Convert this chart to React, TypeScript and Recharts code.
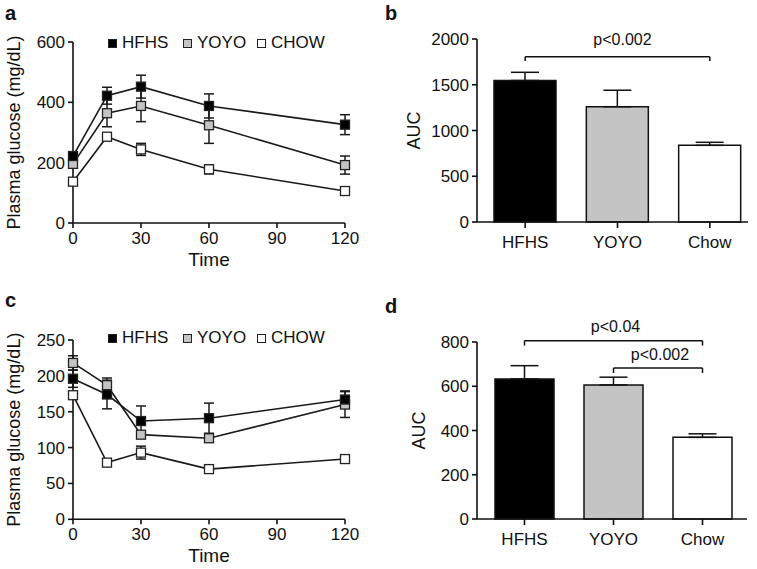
import React from 'react';
import { LineChart, Line, BarChart, Bar, Cell, XAxis, YAxis, ErrorBar, ReferenceLine } from 'recharts';

// sampling times (min)
const times = [0, 15, 30, 60, 120];
const timeTicks = [0, 30, 60, 90, 120];

// panel a: glucose tolerance
const gttHfhs = [222, 422, 452, 388, 326];
const gttHfhsErr = [10, 28, 38, 40, 33];
const gttYoyo = [196, 364, 388, 324, 192];
const gttYoyoErr = [12, 45, 52, 60, 30];
const gttChow = [137, 286, 244, 178, 106];
const gttChowErr = [8, 10, 20, 15, 8];

// panel c: insulin tolerance
const ittHfhs = [196, 174, 137, 141, 167];
const ittHfhsErr = [12, 20, 21, 21, 12];
const ittYoyo = [218, 187, 118, 113, 160];
const ittYoyoErr = [10, 10, 5, 5, 18];
const ittChow = [173, 79, 93, 70, 84];
const ittChowErr = [3, 3, 9, 3, 3];

// panels b and d: AUC
const groups = ['HFHS', 'YOYO', 'Chow'];
const gttAuc = [1546, 1260, 838];
const gttAucErr = [90, 180, 33];
const ittAuc = [633, 606, 369];
const ittAucErr = [60, 35, 16];

const legendNames = ['HFHS', 'YOYO', 'CHOW'];
const fills = ['#000000', '#c4c4c4', '#ffffff'];
const ink = '#111';
const font = '"Liberation Sans", Arial, sans-serif';

const buildSeries = (h: number[], he: number[], y: number[], ye: number[], c: number[], ce: number[]) =>
  times.map((t, i) => ({ t, hfhs: h[i], hfhsErr: he[i], yoyo: y[i], yoyoErr: ye[i], chow: c[i], chowErr: ce[i] }));

const gttData = buildSeries(gttHfhs, gttHfhsErr, gttYoyo, gttYoyoErr, gttChow, gttChowErr);
const ittData = buildSeries(ittHfhs, ittHfhsErr, ittYoyo, ittYoyoErr, ittChow, ittChowErr);

const buildAuc = (vals: number[], errs: number[]) =>
  groups.map((name, i) => ({ name, v: vals[i], err: [0, errs[i]] }));

const gttAucData = buildAuc(gttAuc, gttAucErr);
const ittAucData = buildAuc(ittAuc, ittAucErr);

const squareDot = (fill: string) => (props: any) => {
  const { cx, cy, index } = props;
  if (cx == null || cy == null) return <g key={index} />;
  return <rect key={index} x={cx - 4.5} y={cy - 4.5} width={9} height={9} fill={fill} stroke="#222" strokeWidth={1.3} />;
};

const yLabel = (text: string, x: number) => (props: any) => {
  const vb = props.viewBox;
  const cy = vb.y + vb.height / 2;
  return (
    <text x={x} y={cy} transform={`rotate(-90 ${x} ${cy})`} textAnchor="middle" fontSize={18} fill={ink}>
      {text}
    </text>
  );
};

const axisStyle = { stroke: ink, strokeWidth: 1.6 };
const tickStyle = { fill: ink, fontSize: 17 };

const PanelLetter = ({ ch, left, top }: { ch: string; left: number; top: number }) => (
  <div style={{ position: 'absolute', left, top, fontSize: 20, fontWeight: 'bold', lineHeight: '20px' }}>{ch}</div>
);

const LegendRow = ({ top }: { top: number }) => {
  const lefts = [108, 183, 257];
  return (
    <>
      {legendNames.map((n, i) => (
        <div key={n} style={{ position: 'absolute', left: lefts[i], top, display: 'flex', alignItems: 'center', fontSize: 17, lineHeight: '18px' }}>
          <span style={{ display: 'inline-block', width: 7, height: 7, background: fills[i], border: '1.3px solid #222', marginRight: 5 }} />
          <span>{n}</span>
        </div>
      ))}
    </>
  );
};

const TimeCourse = ({ data, domain, yTicks, height, top }: { data: any[]; domain: number[]; yTicks: number[]; height: number; top: number }) => (
  <LineChart width={380} height={height} data={data} margin={{ top, right: 35, bottom: height - top - (height === 280 ? 181 : 179.3) - 45, left: 0 }}>
    <XAxis
      type="number"
      dataKey="t"
      domain={[0, 120]}
      ticks={timeTicks}
      height={45}
      tickSize={5}
      tickMargin={4}
      axisLine={axisStyle}
      tickLine={axisStyle}
      tick={tickStyle}
      label={{ value: 'Time', position: 'insideBottom', offset: 2, fontSize: 19, fill: ink }}
    />
    <YAxis
      type="number"
      domain={domain}
      ticks={yTicks}
      width={73}
      tickSize={5}
      tickMargin={3}
      axisLine={axisStyle}
      tickLine={axisStyle}
      tick={tickStyle}
      label={yLabel('Plasma glucose (mg/dL)', 20)}
    />
    <Line type="linear" dataKey="chow" stroke="#1a1a1a" strokeWidth={1.6} dot={squareDot(fills[2])} isAnimationActive={false}>
      <ErrorBar dataKey="chowErr" width={5} stroke="#1a1a1a" strokeWidth={1.5} direction="y" />
    </Line>
    <Line type="linear" dataKey="yoyo" stroke="#1a1a1a" strokeWidth={1.6} dot={squareDot(fills[1])} isAnimationActive={false}>
      <ErrorBar dataKey="yoyoErr" width={5} stroke="#1a1a1a" strokeWidth={1.5} direction="y" />
    </Line>
    <Line type="linear" dataKey="hfhs" stroke="#1a1a1a" strokeWidth={1.6} dot={squareDot(fills[0])} isAnimationActive={false}>
      <ErrorBar dataKey="hfhsErr" width={5} stroke="#1a1a1a" strokeWidth={1.5} direction="y" />
    </Line>
  </LineChart>
);

const bracket = (a: string, b: string, y: number, drop: number, text: string, offset: number, dx: number) => [
  <ReferenceLine key={text + 'h'} segment={[{ x: a, y }, { x: b, y }]} stroke={ink} strokeWidth={1.5} ifOverflow="visible"
    label={{ value: text, position: 'top', offset, dx, fontSize: 16, fill: ink }} />,
  <ReferenceLine key={text + 'l'} segment={[{ x: a, y }, { x: a, y: drop }]} stroke={ink} strokeWidth={1.5} ifOverflow="visible" />,
  <ReferenceLine key={text + 'r'} segment={[{ x: b, y }, { x: b, y: drop }]} stroke={ink} strokeWidth={1.5} ifOverflow="visible" />,
];

export default function App() {
  return (
    <div style={{ position: 'absolute', left: 0, top: 0, width: 757, height: 569, background: '#fff', fontFamily: font, color: ink, overflow: 'hidden' }}>
      {/* a */}
      <div style={{ position: 'absolute', left: 0, top: 0 }}>
        <TimeCourse data={gttData} domain={[0, 600]} yTicks={[0, 200, 400, 600]} height={280} top={42} />
        <LegendRow top={34} />
        <PanelLetter ch="a" left={5} top={3} />
      </div>

      {/* b */}
      <div style={{ position: 'absolute', left: 380, top: 0 }}>
        <BarChart width={377} height={280} data={gttAucData} margin={{ top: 39, right: 9, bottom: 17, left: 0 }}>
          <XAxis dataKey="name" type="category" height={41} padding={{ left: 2, right: -8 }} tickSize={6} tickMargin={8}
            axisLine={axisStyle} tickLine={axisStyle} tick={tickStyle} />
          <YAxis type="number" domain={[0, 2000]} ticks={[0, 500, 1000, 1500, 2000]} width={97} tickSize={5} tickMargin={3}
            axisLine={axisStyle} tickLine={axisStyle} tick={tickStyle} label={yLabel('AUC', 40)} />
          <Bar dataKey="v" barSize={62} stroke={ink} strokeWidth={1.5} isAnimationActive={false}>
            {gttAucData.map((d, i) => <Cell key={d.name} fill={fills[i]} />)}
            <ErrorBar dataKey="err" width={14} stroke={ink} strokeWidth={1.5} direction="y" />
          </Bar>
          {bracket('HFHS', 'Chow', 1807, 1760, 'p<0.002', 12, 5)}
        </BarChart>
        <PanelLetter ch="b" left={5} top={3} />
      </div>

      {/* c */}
      <div style={{ position: 'absolute', left: 0, top: 280 }}>
        <TimeCourse data={ittData} domain={[0, 250]} yTicks={[0, 50, 100, 150, 200, 250]} height={289} top={60} />
        <LegendRow top={49} />
        <PanelLetter ch="c" left={5} top={10} />
      </div>

      {/* d */}
      <div style={{ position: 'absolute', left: 380, top: 280 }}>
        <BarChart width={377} height={289} data={ittAucData} margin={{ top: 62, right: 10, bottom: 9, left: 0 }}>
          <XAxis dataKey="name" type="category" height={41} padding={{ left: 3, right: 0 }} tickSize={6} tickMargin={8}
            axisLine={axisStyle} tickLine={axisStyle} tick={tickStyle} />
          <YAxis type="number" domain={[0, 800]} ticks={[0, 200, 400, 600, 800]} width={97} tickSize={5} tickMargin={3}
            axisLine={axisStyle} tickLine={axisStyle} tick={tickStyle} label={yLabel('AUC', 45)} />
          <Bar dataKey="v" barSize={59} stroke={ink} strokeWidth={1.5} isAnimationActive={false}>
            {ittAucData.map((d, i) => <Cell key={d.name} fill={fills[i]} />)}
            <ErrorBar dataKey="err" width={14} stroke={ink} strokeWidth={1.5} direction="y" />
          </Bar>
          {bracket('HFHS', 'Chow', 806, 784, 'p<0.04', 9, 2)}
          {bracket('YOYO', 'Chow', 682, 660, 'p<0.002', 8, 2)}
        </BarChart>
        <PanelLetter ch="d" left={5} top={16} />
      </div>
    </div>
  );
}
